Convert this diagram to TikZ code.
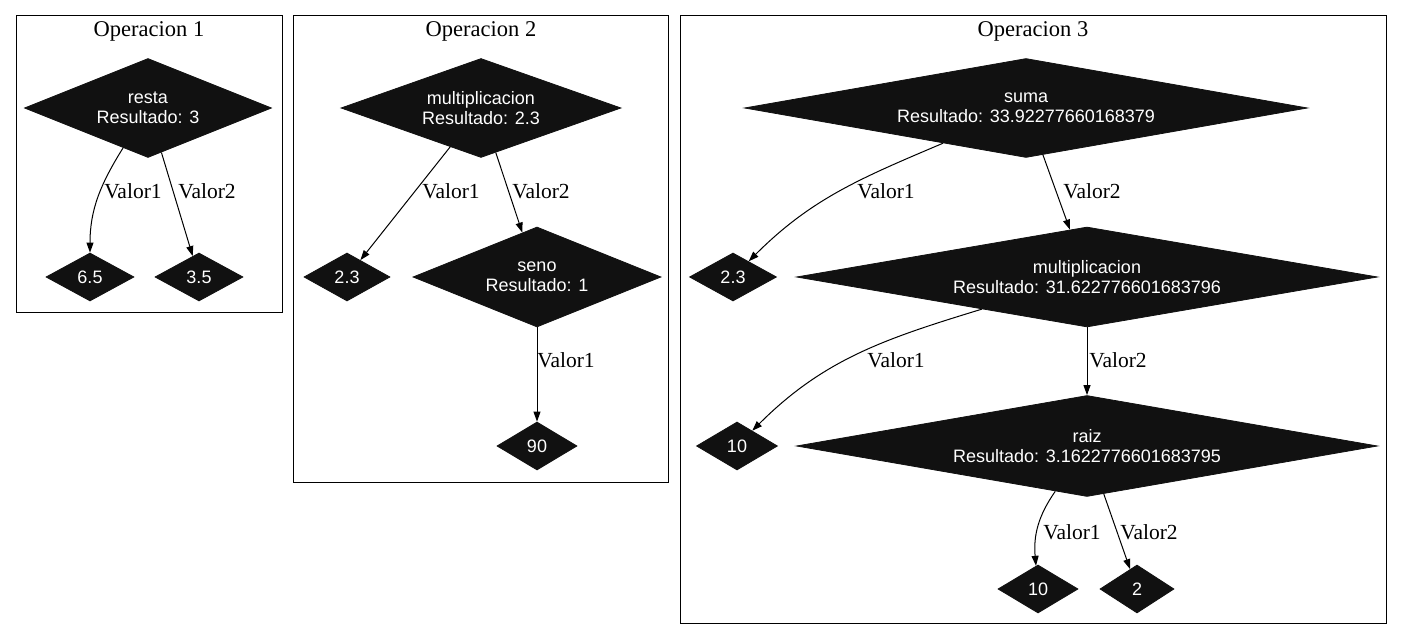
\documentclass[tikz,border=0pt]{standalone}
\usepackage{fontspec}
\setmainfont{Liberation Serif}
\newfontfamily\nodefont{Liberation Sans}
\usetikzlibrary{shapes.geometric,arrows.meta}

\definecolor{opfill}{HTML}{111111}

\tikzset{
	opnode/.style 2 args={ diamond
	                     , fill=opfill
	                     , draw=opfill
	                     , text=white
	                     , font=\nodefont\fontsize{9}{10}\selectfont
	                     , align=center
	                     , inner sep=0
	                     , /utils/exec={\pgfmathsetmacro\opaspect{#1/#2}}
	                     , aspect=\opaspect
	                     , minimum width=#1*0.5pt
	                     , minimum height=#2*0.5pt},
	valnode/.style={opnode={#1}{48}},
	edge/.style={draw, line width=0.5pt, -{Triangle[length=5pt,width=3.5pt]}},
	lbl/.style={font=\fontsize{10.75}{12}\selectfont, inner sep=0},
	optitle/.style={font=\fontsize{11.25}{13}\selectfont, inner sep=0},
	cluster/.style={draw, line width=0.5pt},
}

\begin{document}
\begin{tikzpicture}[x=0.5pt, y=0.5pt]
	\useasboundingbox (0, 0) rectangle (1403, -640);
	
	% Outline around operations
	\draw [cluster] (16, -16) rectangle (282, -313);
	\draw [cluster] (293, -16) rectangle (668, -483);
	\draw [cluster] (680, -16) rectangle (1386, -624);
	\node (title1) at (149, -31) [optitle] {Operacion 1};
	\node (title2) at (481, -31) [optitle] {Operacion 2};
	\node (title3) at (1033, -31) [optitle] {Operacion 3};
	
	% Operacion 1
	\node (resta) at (148, -108) [opnode={247}{99}] {resta\\Resultado: 3};
	\node (v65) at (90, -277) [valnode=88] {6.5};
	\node (v35) at (199, -277) [valnode=88] {3.5};
	
	\draw [edge] (resta) to[out=-122, in=90] (v65);
	\draw [edge] (resta) -- (v35);
	\node (l11) at (133, -191) [lbl] {Valor1};
	\node (l12) at (207, -191) [lbl] {Valor2};
	
	% Operacion 2
	\node (mult2) at (481, -108) [opnode={280}{99}] {multiplicacion\\Resultado: 2.3};
	\node (v23a) at (347, -277) [valnode=86] {2.3};
	\node (seno) at (537, -277) [opnode={248}{100}] {seno\\Resultado: 1};
	\node (v90) at (537, -446) [valnode=80] {90};
	
	\draw [edge] (mult2) -- (v23a);
	\draw [edge] (mult2) -- (seno);
	\draw [edge] (seno) -- (v90);
	\node (l21) at (451, -191) [lbl] {Valor1};
	\node (l22) at (541, -191) [lbl] {Valor2};
	\node (l23) at (566, -360) [lbl] {Valor1};
	
	% Operacion 3
	\node (suma) at (1026, -108) [opnode={563}{99}] {suma\\Resultado: 33.92277660168379};
	\node (v23b) at (733, -277) [valnode=87] {2.3};
	\node (mult3) at (1087, -277) [opnode={581}{100}] {multiplicacion\\Resultado: 31.622776601683796};
	\node (v10a) at (737, -446) [valnode=81] {10};
	\node (raiz) at (1087, -446) [opnode={581}{101}] {raiz\\Resultado: 3.1622776601683795};
	\node (v10b) at (1038, -589) [valnode=80] {10};
	\node (v2) at (1137, -589) [valnode=74] {2};
	
	\draw [edge] (suma) to[out=-157, in=45] (v23b);
	\draw [edge] (suma) -- (mult3);
	\draw [edge] (mult3) to[out=-163, in=45] (v10a);
	\draw [edge] (mult3) -- (raiz);
	\draw [edge] (raiz) to[out=-125, in=95] (v10b);
	\draw [edge] (raiz) -- (v2);
	\node (l31) at (886, -191) [lbl] {Valor1};
	\node (l32) at (1092, -191) [lbl] {Valor2};
	\node (l33) at (896, -360) [lbl] {Valor1};
	\node (l34) at (1118, -360) [lbl] {Valor2};
	\node (l35) at (1072, -532) [lbl] {Valor1};
	\node (l36) at (1149, -532) [lbl] {Valor2};
	
\end{tikzpicture}
\end{document}
